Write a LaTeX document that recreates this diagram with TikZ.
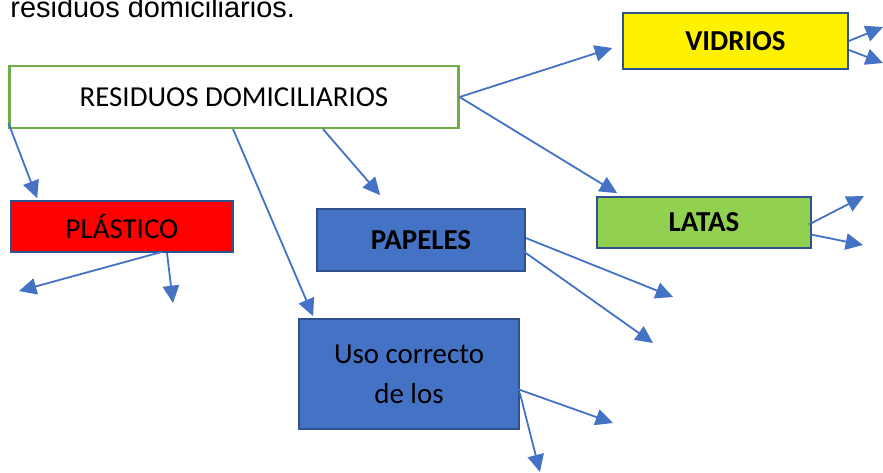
\documentclass[tikz,border=0pt]{standalone}
\usepackage{fontspec}
\setmainfont{Carlito}
\newfontfamily\arialfont{Liberation Sans}
\usetikzlibrary{arrows.meta,calc}
\definecolor{arrowblue}{RGB}{68,114,196}
\definecolor{edgeblue}{RGB}{47,82,143}
\definecolor{edgegreen}{RGB}{112,173,71}
\definecolor{latasgreen}{RGB}{146,208,80}
\tikzset{
  box/.style={draw=edgeblue,line width=0.7pt,inner sep=0pt,font=\fontsize{12pt}{16.6pt}\selectfont},
  arr/.style={draw=arrowblue,line width=0.75pt,-{Triangle[length=7.2pt,width=6.8pt]}}
}
\begin{document}
\begin{tikzpicture}[x=0.415pt,y=-0.415pt]
\newcommand\px{0.415pt}
\useasboundingbox (0,0) rectangle (883,472);

\node (title) at (10,17) [anchor=base west,font=\arialfont\fontsize{12pt}{14pt}\selectfont,inner sep=0pt] {residuos domiciliarios.};

\node (res) at (234,97) [box,draw=edgegreen,line width=0.9pt,fill=white,minimum width=449*\px,minimum height=62*\px] {RESIDUOS DOMICILIARIOS};
\node (vid) at (735.5,41) [box,fill=yellow,minimum width=225*\px,minimum height=56*\px] {\textbf{VIDRIOS}};
\node (lat) at (704,222.5) [box,fill=latasgreen,minimum width=214*\px,minimum height=51*\px] {\textbf{LATAS}};
\node (pla) at (122,226.5) [box,fill=red,minimum width=222*\px,minimum height=51*\px] {PLÁSTICO};
\node (pap) at (421,240) [box,fill=arrowblue,minimum width=208*\px,minimum height=62*\px] {\textbf{PAPELES}};
\node (uso) at (409,374) [box,fill=arrowblue,minimum width=220*\px,minimum height=110*\px,align=center] {Uso correcto\\de los};

% free ends
\coordinate (vidA) at (883,27);
\coordinate (vidB) at (883,63);
\coordinate (latA) at (864,196);
\coordinate (latB) at (863,245);
\coordinate (papA) at (673,297);
\coordinate (papB) at (653,343);
\coordinate (usoA) at (613,423);
\coordinate (usoB) at (540,472);
\coordinate (plaA) at (19,291);
\coordinate (plaB) at (173,303);

\draw [arr] (res.east) -- ($(vid.west)+(-10,7)$);
\draw [arr] (res.east) -- ($(lat.north west)+(21,-3)$);
\draw [arr] ($(res.south west)+(0,-6)$) -- ($(pla.north west)+(27,-2)$);
\draw [arr] ($(res.south)+(-1,0)$) -- ($(uso.north west)+(15,-2)$);
\draw [arr] ($(res.south)+(89,0)$) -- ($(pap.north west)+(64,-13)$);

\draw [arr] (vid.east) -- (vidA);
\draw [arr] ($(vid.east)+(0,9)$) -- (vidB);
\draw [arr] ($(lat.east)+(-3,2)$) -- (latA);
\draw [arr] ($(lat.east)+(-1,12)$) -- (latB);
\draw [arr] ($(pap.east)+(0,-2)$) -- (papA);
\draw [arr] ($(pap.east)+(-7,8)$) -- (papB);
\draw [arr] ($(uso.east)+(-8,13)$) -- (usoA);
\draw [arr] ($(uso.east)+(0,19)$) -- (usoB);
\draw [arr] ($(pla.south)+(40,-1)$) -- (plaA);
\draw [arr] ($(pla.south)+(45,0)$) -- (plaB);

\end{tikzpicture}
\end{document}
